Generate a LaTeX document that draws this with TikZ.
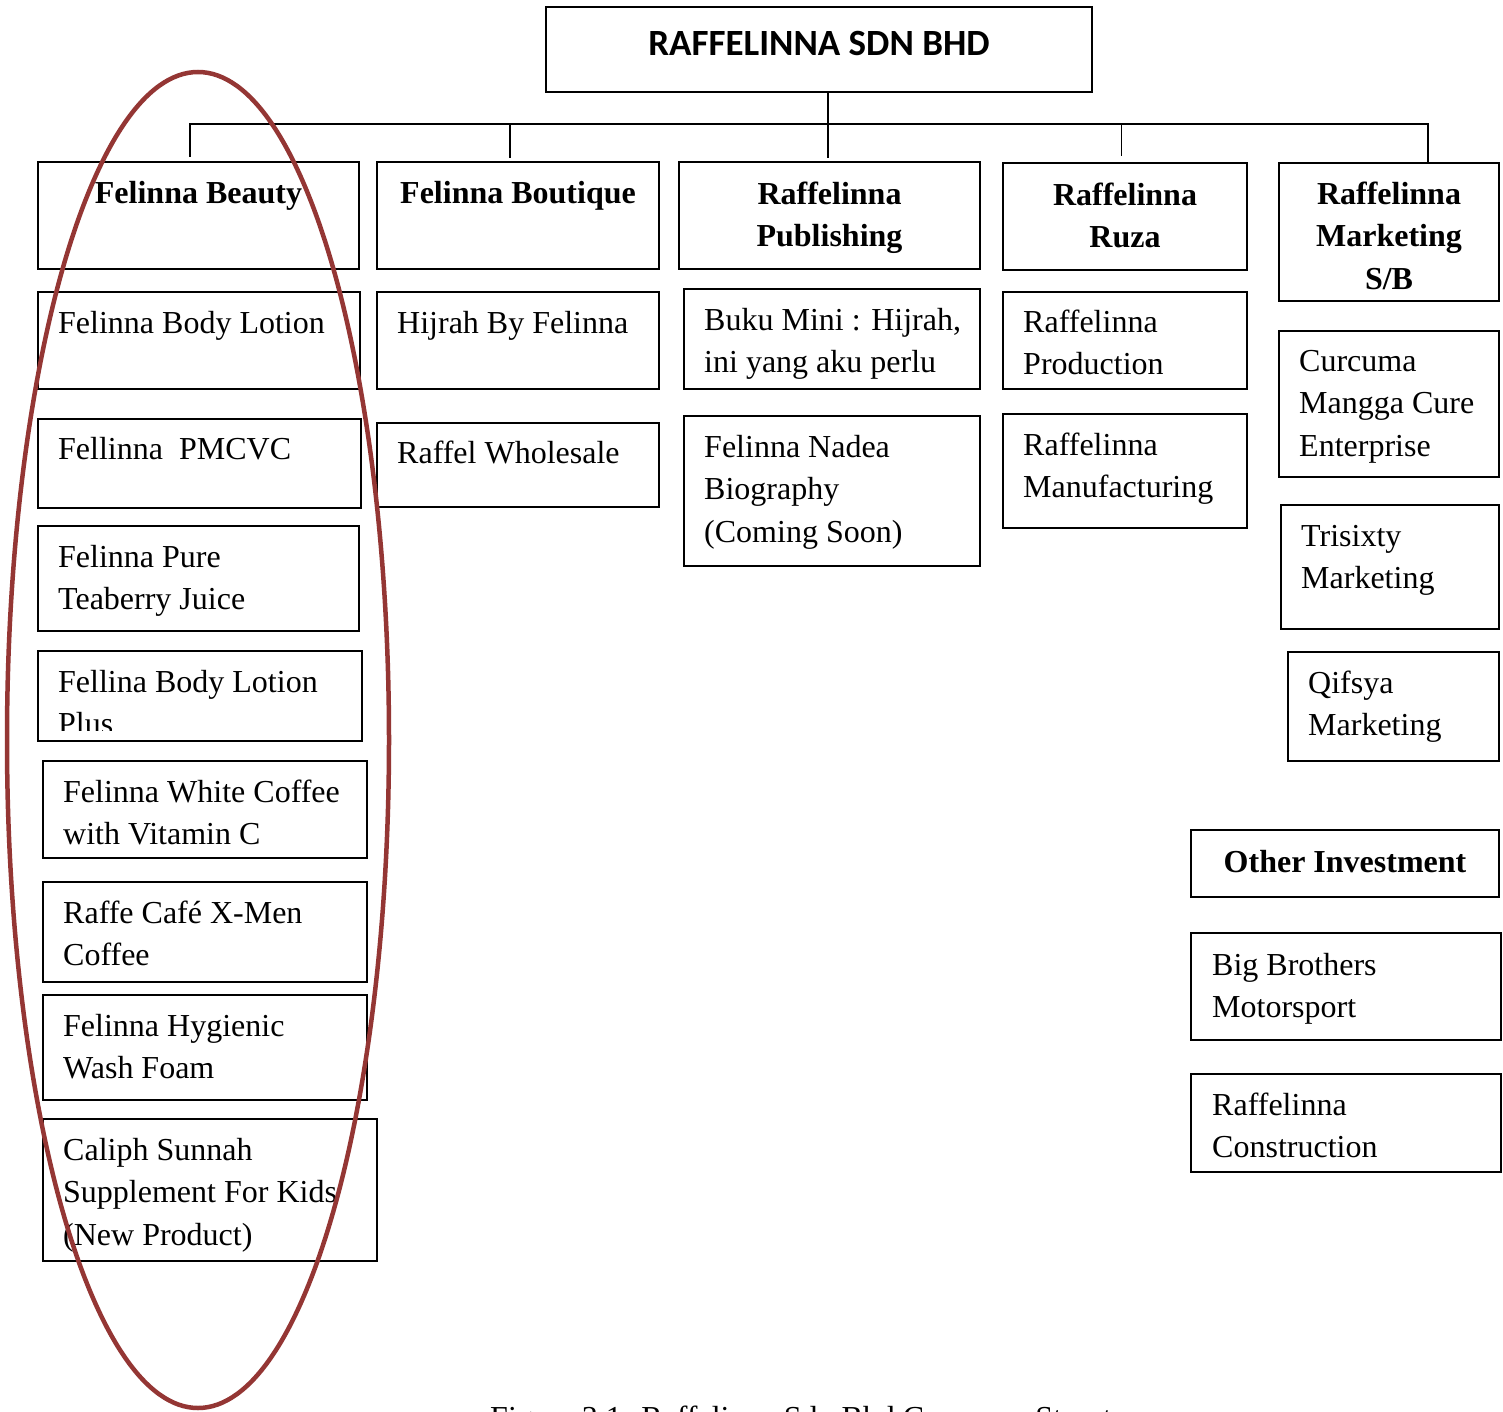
\documentclass[tikz,border=0pt]{standalone}
\usepackage{fontspec}
\setmainfont{Liberation Serif}
\newfontfamily\titlefont{Carlito}
\usetikzlibrary{calc}
\definecolor{ringred}{RGB}{148,54,52}
\tikzset{
  box/.style={draw, line width=1.6pt, inner sep=0pt, outer sep=0pt, anchor=north west},
  txt/.style={anchor=north west, inner sep=0pt, align=left, font=\fontsize{32}{42.5}\selectfont},
  hdr/.style={anchor=north, inner sep=0pt, align=center, font=\fontsize{32}{42.5}\selectfont\bfseries},
  conn/.style={line width=1.6pt, line cap=rect},
  ring/.style={draw=ringred, line width=4.5pt}
}
\newcommand\bx[5]{\node[box, minimum width={(#4-#2)*1pt}, minimum height={(#5-#3)*1pt}] (#1) at (#2,#3) {};}
\newcommand\tx[4]{\node[txt] (#1) at (#2,#3-18.75) {\strut #4};}
\newcommand\hd[4]{\node[hdr] (#1) at (#2,#3-18.75) {\strut #4};}
\begin{document}
\begin{tikzpicture}[x=1pt,y=-1pt]
\fill[white] (0,0) rectangle (1503,1412);
\useasboundingbox (0,0) rectangle (1503,1412);
\clip (0,0) rectangle (1503,1412);

% top box
\bx{top}{546}{7}{1092}{92}
\node[inner sep=0pt, font=\titlefont\bfseries\fontsize{37}{44}\selectfont] (topt) at (819,43) {RAFFELINNA SDN BHD};

% connectors
\coordinate (tb) at (828,92);
\coordinate (h1) at (190,124);
\coordinate (h2) at (510,124);
\coordinate (h3) at (828,124);
\coordinate (h4) at (1121.5,124);
\coordinate (h5) at (1428,124);
\coordinate (e1) at (190,156);
\coordinate (e2) at (510,157);
\coordinate (e3) at (828,157);
\coordinate (e4) at (1121.5,155);
\coordinate (e5) at (1428,162);
\draw[conn] (tb) -- (h3);
\draw[conn] (h1) -- (h5);
\draw[conn] (h1) -- (e1);
\draw[conn] (h2) -- (e2);
\draw[conn] (h3) -- (e3);
\draw[conn] (h4) -- (e4);
\draw[conn] (h5) -- (e5);

% column 1
\bx{fb}{38}{162}{359}{269}
\hd{fbt}{198.5}{192}{Felinna Beauty}
\bx{p1}{38}{292}{360}{389}
\tx{p1t}{58}{322}{Felinna Body Lotion}
\bx{p2}{38}{419}{361}{508}
\tx{p2t}{58}{448}{Fellinna\ \ PMCVC}
\bx{p3}{38}{526}{359}{631}
\tx{p3t}{58}{556}{Felinna Pure\\Teaberry Juice}
\bx{p4}{38}{651}{362}{741}
\begin{scope}
\clip (38,651) rectangle (362,730);
\tx{p4t}{58}{681}{Fellina Body Lotion\\Plus}
\end{scope}
\bx{p5}{43}{761}{367}{858}
\tx{p5t}{63}{791}{Felinna White Coffee\\with Vitamin C}
\bx{p6}{43}{882}{367}{982}
\tx{p6t}{63}{912}{Raffe Café X-Men\\Coffee}
\bx{p7}{43}{995}{367}{1100}
\tx{p7t}{63}{1025}{Felinna Hygienic\\Wash Foam}
\bx{p8}{43}{1119}{377}{1261}
\tx{p8t}{63}{1149}{Caliph Sunnah\\Supplement For Kids\\(New Product)}

% column 2
\bx{bt}{377}{162}{659}{269}
\hd{btt}{518}{192}{Felinna Boutique}
\bx{b1}{377}{292}{659}{389}
\tx{b1t}{397}{322}{Hijrah By Felinna}
\bx{b2}{377}{423}{659}{507}
\tx{b2t}{397}{452}{Raffel Wholesale}

% column 3
\bx{pb}{679}{162}{980}{269}
\hd{pbt}{829.5}{193}{Raffelinna\\Publishing}
\bx{u1}{684}{289}{980}{389}
\tx{u1t}{704}{319}{Buku Mini : Hijrah,\\ini yang aku perlu}
\bx{u2}{684}{416}{980}{566}
\tx{u2t}{704}{446}{Felinna Nadea\\Biography\\(Coming Soon)}

% column 4
\bx{rz}{1003}{163}{1247}{270}
\hd{rzt}{1125}{194}{Raffelinna\\Ruza}
\bx{r1}{1003}{292}{1247}{389}
\tx{r1t}{1023}{321}{Raffelinna\\Production}
\bx{r2}{1003}{414}{1247}{528}
\tx{r2t}{1023}{444}{Raffelinna\\Manufacturing}

% column 5
\bx{mk}{1279}{163}{1499}{301}
\hd{mkt}{1389}{193}{Raffelinna\\Marketing\\S/B}
\bx{m1}{1279}{331}{1499}{477}
\tx{m1t}{1299}{360}{Curcuma\\Mangga Cure\\Enterprise}
\bx{m2}{1281}{505}{1499}{629}
\tx{m2t}{1301}{535}{Trisixty\\Marketing}
\bx{m3}{1288}{652}{1499}{761}
\tx{m3t}{1308}{682}{Qifsya\\Marketing}
\bx{oi}{1191}{830}{1499}{897}
\hd{oit}{1345}{861}{Other Investment}
\bx{o1}{1191}{933}{1501}{1040}
\tx{o1t}{1212}{964}{Big Brothers\\Motorsport}
\bx{o2}{1191}{1074}{1501}{1172}
\tx{o2t}{1212}{1104}{Raffelinna\\Construction}

% caption (cut off by the page edge, as in the original)
\node[anchor=base west, inner sep=0pt, font=\fontsize{32}{42.5}\selectfont] (cap) at (490,1428) {Figure 3.1: Raffelinna Sdn Bhd Company Structure};

% highlight ring
\draw[ring] (198,740) ellipse [x radius=191pt, y radius=668pt];
\end{tikzpicture}
\end{document}
